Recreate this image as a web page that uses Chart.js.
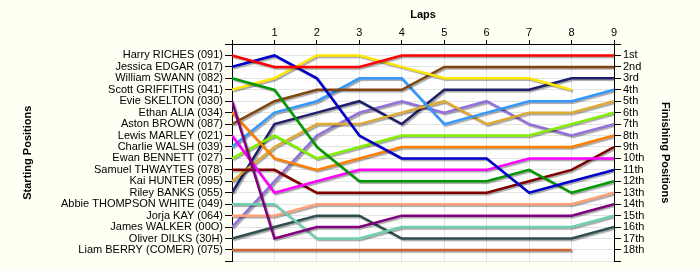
<!DOCTYPE html>
<html>
<head>
<meta charset="utf-8">
<script src="https://cdn.jsdelivr.net/npm/chart.js@4"></script>
<style>
  body { margin: 0; background: #fffff3; }
  #wrap { width: 700px; height: 270px; }
</style>
</head>
<body>
<div id="wrap"><canvas id="lapChart" width="700" height="270"></canvas></div>
<script>
const laps = [0, 1, 2, 3, 4, 5, 6, 7, 8, 9];

const startDrivers = [
    'Harry RICHES (091)', 'Jessica EDGAR (017)', 'William SWANN (082)', 'Scott GRIFFITHS (041)',
    'Evie SKELTON (030)', 'Ethan ALIA (034)', 'Aston BROWN (087)', 'Lewis MARLEY (021)',
    'Charlie WALSH (039)', 'Ewan BENNETT (027)', 'Samuel THWAYTES (078)', 'Kai HUNTER (095)',
    'Riley BANKS (055)', 'Abbie THOMPSON WHITE (049)', 'Jorja KAY (064)', 'James WALKER (00O)',
    'Oliver DILKS (30H)', 'Liam BERRY (COMER) (075)'
];

const finishLabels = ['1st', '2nd', '3rd', '4th', '5th', '6th', '7th', '8th', '9th',
    '10th', '11th', '12th', '13th', '14th', '15th', '16th', '17th', '18th'];

// position of each driver at the end of every lap (lap 0 = grid)
const harry   = [1, 2, 2, 2, 1, 1, 1, 1, 1, 1];
const jessica = [2, 1, 3, 8, 10, 10, 10, 13, 12, 11];
const william = [3, 4, 9, 12, 12, 12, 12, 11, 13, 12];
const scott   = [4, 3, 1, 1, 2, 3, 3, 3, 4, null];
const evie    = [5, 17, 16, 16, 15, 15, 15, 15, 15, 14];
const ethan   = [6, 10, 11, 10, 9, 9, 9, 9, 9, 8];
const aston   = [7, 5, 4, 4, 4, 2, 2, 2, 2, 2];
const lewis   = [8, 13, 12, 11, 11, 11, 11, 10, 10, 10];
const charlie = [9, 6, 5, 3, 3, 7, 6, 5, 5, 4];
const ewan    = [10, 8, 10, 9, 8, 8, 8, 8, 7, 6];
const samuel  = [11, 11, 13, 13, 13, 13, 13, 12, 11, 9];
const kai     = [12, 9, 7, 7, 6, 5, 7, 6, 6, 5];
const riley   = [13, 7, 6, 5, 7, 4, 4, 4, 3, 3];
const abbie   = [14, 14, 17, 17, 16, 16, 16, 16, 16, 15];
const jorja   = [15, 15, 14, 14, 14, 14, 14, 14, 14, 13];
const james   = [16, 12, 8, 6, 5, 6, 5, 7, 8, 7];
const oliver  = [17, 16, 15, 15, 17, 17, 17, 17, 17, 16];
const liam    = [18, 18, 18, 18, 18, 18, 18, 18, 18, null];

const driverPositions = [harry, jessica, william, scott, evie, ethan, aston, lewis, charlie,
    ewan, samuel, kai, riley, abbie, jorja, james, oliver, liam];

const lineColors = ['#ff0000', '#0000cc', '#009a00', '#ffe600', '#800080', '#ff8000',
    '#80460f', '#ff00ff', '#3399ff', '#80f000', '#800000', '#ddaa33', '#1f1f6a',
    '#6fcfb0', '#ffa07a', '#9370db', '#2f4f4f', '#cc6633'];

const datasets = [];
for (let i = 0; i < driverPositions.length; i++) {
    datasets.push({
        label: startDrivers[i],
        data: driverPositions[i].map((p, j) => ({ x: laps[j], y: p })),
        borderColor: lineColors[i],
        backgroundColor: lineColors[i],
        borderWidth: 2.5,
        pointRadius: 0,
        tension: 0,
        spanGaps: false
    });
}

// white plot area on cream page
const plotBackground = {
    id: 'plotBackground',
    beforeDraw(chart) {
        const { ctx, chartArea } = chart;
        ctx.save();
        ctx.fillStyle = '#ffffff';
        ctx.fillRect(chartArea.left, chartArea.top, chartArea.right - chartArea.left, chartArea.bottom - chartArea.top);
        ctx.restore();
    }
};

// soft drop shadow under each line
const lineShadow = {
    id: 'lineShadow',
    beforeDatasetDraw(chart) {
        const ctx = chart.ctx;
        ctx.save();
        ctx.shadowColor = 'rgba(0,0,0,0.35)';
        ctx.shadowOffsetX = 1.5;
        ctx.shadowOffsetY = 1.5;
        ctx.shadowBlur = 1;
    },
    afterDatasetDraw(chart) {
        chart.ctx.restore();
    }
};

const tickFont = { family: 'Arial, "Liberation Sans", sans-serif', size: 11 };
const titleFont = { family: 'Arial, "Liberation Sans", sans-serif', size: 11, weight: 'bold' };

new Chart(document.getElementById('lapChart'), {
    type: 'line',
    data: { datasets: datasets },
    plugins: [plotBackground, lineShadow],
    options: {
        responsive: false,
        animation: false,
        layout: { padding: { top: 0, left: 0, right: 0, bottom: 8 } },
        plugins: {
            legend: { display: false },
            tooltip: { enabled: false }
        },
        scales: {
            x: {
                type: 'linear',
                position: 'top',
                min: 0,
                max: 9,
                afterFit(scale) { scale.height = 44; },
                ticks: {
                    stepSize: 1,
                    autoSkip: false,
                    padding: 0,
                    color: '#000',
                    font: tickFont,
                    callback: (v) => v === 0 ? '' : v
                },
                grid: { color: '#e4e4e4', tickColor: '#000', tickLength: 4 },
                border: { color: '#000' },
                title: {
                    display: true,
                    text: 'Laps',
                    color: '#000',
                    font: titleFont,
                    padding: { top: 8, bottom: 0 }
                }
            },
            y: {
                type: 'linear',
                position: 'left',
                reverse: true,
                min: 0,
                max: 19,
                afterFit(scale) { scale.width = 232; },
                ticks: {
                    stepSize: 1,
                    autoSkip: false,
                    padding: 2,
                    color: '#000',
                    font: tickFont,
                    callback: (v) => startDrivers[v - 1] || ''
                },
                grid: { color: '#e4e4e4', tickColor: '#000', tickLength: 7 },
                border: { color: '#000' },
                title: {
                    display: true,
                    text: 'Starting Positions',
                    color: '#000',
                    font: titleFont,
                    padding: { top: 21, bottom: 0 }
                }
            },
            yFinish: {
                type: 'linear',
                position: 'right',
                reverse: true,
                min: 0,
                max: 19,
                afterFit(scale) { scale.width = 86; },
                ticks: {
                    stepSize: 1,
                    autoSkip: false,
                    padding: 2,
                    color: '#000',
                    font: tickFont,
                    callback: (v) => finishLabels[v - 1] || ''
                },
                grid: { drawOnChartArea: false, tickColor: '#000', tickLength: 7 },
                border: { color: '#000' },
                title: {
                    display: true,
                    text: 'Finishing Positions',
                    color: '#000',
                    font: titleFont,
                    padding: { top: 28, bottom: 0 }
                }
            }
        }
    }
});
</script>
</body>
</html>
